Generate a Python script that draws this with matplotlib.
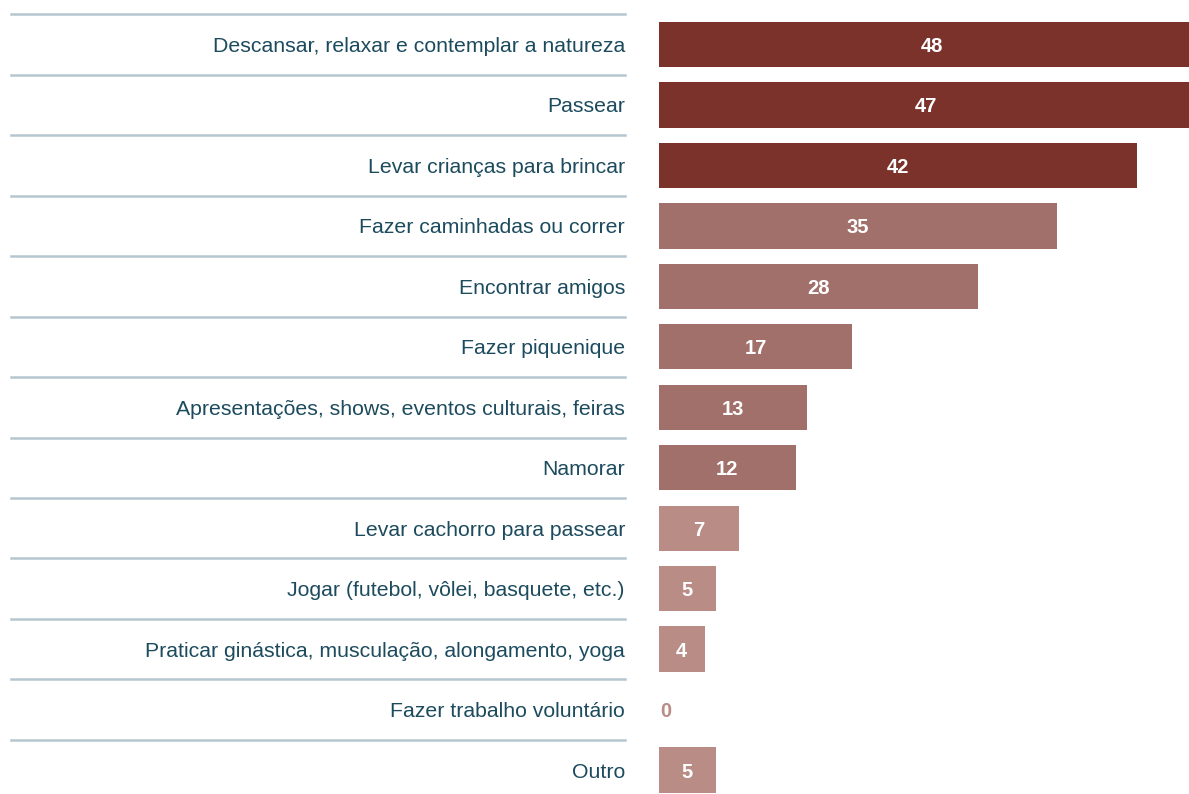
import numpy as np
import matplotlib
matplotlib.use('Agg')
import matplotlib.pyplot as plt
from matplotlib.transforms import blended_transform_factory

plt.rcParams['font.family'] = ['Liberation Sans', 'DejaVu Sans']

categories = ['Descansar, relaxar e contemplar a natureza',
              'Passear',
              'Levar crianças para brincar',
              'Fazer caminhadas ou correr',
              'Encontrar amigos',
              'Fazer piquenique',
              'Apresentações, shows, eventos culturais, feiras',
              'Namorar',
              'Levar cachorro para passear',
              'Jogar (futebol, vôlei, basquete, etc.)',
              'Praticar ginástica, musculação, alongamento, yoga',
              'Fazer trabalho voluntário',
              'Outro']
values = [48, 47, 42, 35, 28, 17, 13, 12, 7, 5, 4, 0, 5]

dark = '#7b322b'
mid = '#a2706a'
light = '#b98c86'
bar_colors = [dark, dark, dark, mid, mid, mid, mid, mid, light, light, light, light, light]
label_color = '#1d4b5e'
line_color = '#b6c6d0'

fig = plt.figure(figsize=(11.89, 7.94), dpi=100)
ax = fig.add_axes([659/1189, 0, 1 - 659/1189, (794 - 14.3)/794])

y = np.arange(len(categories))
bars = ax.barh(y, values, height=0.75, color=bar_colors)

# scale: 530 px for the visible width, ~11.38 px per unit
ax.set_xlim(0, 530/11.38)
ax.set_ylim((794 - 44.5)/60.46, -0.5)

for yi, v, c in zip(y, values, bar_colors):
    if v > 0:
        ax.text(v/2, yi, str(v), ha='center', va='center_baseline', color='white',
                fontsize=14.5, fontweight='bold', clip_on=False)
    else:
        ax.text(0.1, yi, str(v), ha='left', va='center_baseline', color=c,
                fontsize=14.5, fontweight='bold')

ax.set_yticks(y)
ax.set_yticklabels(categories, fontsize=15.3, color=label_color, va='center_baseline')
ax.tick_params(axis='y', length=0, pad=24.5)
ax.set_xticks([])
for s in ax.spines.values():
    s.set_visible(False)

# separator lines in the label area
trans = blended_transform_factory(fig.transFigure, ax.transData)
for yi in y:
    ax.plot([11/1189, 625/1189], [yi - 0.5, yi - 0.5], color=line_color,
            lw=1.8, transform=trans, clip_on=False)

fig.savefig('out.png', dpi=100)
